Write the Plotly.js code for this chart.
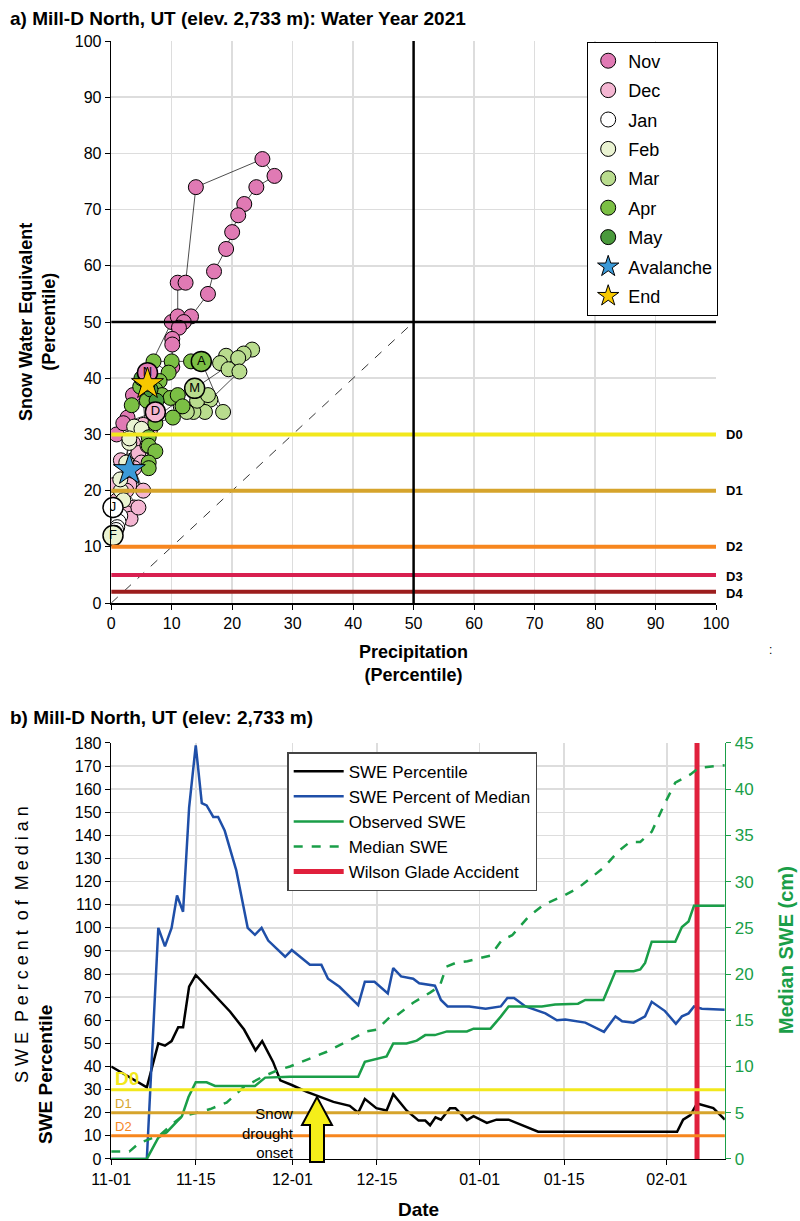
<!DOCTYPE html>
<html><head><meta charset="utf-8">
<script src="https://cdn.plot.ly/plotly-3.0.1.min.js"></script>
<style>body{margin:0;background:#fff}#c{width:800px;height:1221px}</style>
</head><body><div id="c"></div>
<script>
// ---------- Panel a data (precip percentile, SWE percentile) ----------
const novP=[6,3.6,0.9,10,11,11,12.3,14,25,27,24,22,21,20,19,17,16,13.2,12,11.2,10.1,10.1,10.1,2.7,2];
const novS=[41,37,30,50,51,57,57,74,79,76,74,71,69,66,63,59,55,51,50,49,47,46,42,33,32];
const decP=[7.3,6.4,5.3,3.6,4.5,5,1.6,5.3,3.8,2,0.5,6,3,1,3.8,2.5,3.2,4.5,2.5];
const decS=[34,30.7,31.7,28.5,26.7,25,25.4,20,24,22,21,28,21,18.3,17,16,15,17,20];
const janP=[0.3,1.5,1.2,1,0.8,0.6];
const janS=[17,15.5,14.5,13.5,13,12.5];
const febP=[0.3,1.6,2,1.5,3,3.8,3,2.5,5];
const febS=[12,20,18.3,22,28.5,31.4,29.3,25,31];
const marP=[13.8,23.3,21.9,19,21,18,19.4,21.2,16.4,15.5,13.6,12.5,14.2,11.5,16,18.5];
const marS=[38.2,45.1,44.4,44,43.6,42.7,41.6,41.2,36.2,34,34,34,36,35,37,34];
const aprP=[14.9,13.2,10,7,9.5,8,7.3,4.8,3.4,5.9,8.4,9.8,11,11.8,10.2,7.3,6.2,6.2,7.3,6.2,6.2];
const aprS=[43,43,43,43,41,39.5,38,38.5,35.2,36,37,36.5,37,35,33,32,29.5,28,27,25,24];
const mayP=[5,6.5,7.5,6];
const mayS=[40,38,36,39];
const labelP=[6,7.3,0.3,0.3,13.8,14.9];
const labelS=[41,34,17,12,38.2,43];
const labelTxt=['N','D','J','F','M','A'];
const labelCol=['#e07ab4','#f4b6d2','#ffffff','#eaf3d2','#b9dc8e','#7bbf44'];
const avalP=[3], avalS=[23.7];
const endP=[6], endS=[39];
const droughtA=[30,20,10,5,2];
const droughtNames=['D0','D1','D2','D3','D4'];
const droughtCols=['#f2e81c','#d6a42c','#f7861e','#d81f50','#9c1d1d'];

// ---------- Panel b data (day offset from 2020-11-01) ----------
const pctDays=[0,2,4,5.9,7.8,8.9,10,11.1,11.9,12.9,14,15.8,17.5,19.7,22,23.9,25,26.8,28,29.9,32.4,36.8,39.5,40.9,42,43.9,45.6,46.7,48.9,50.9,52,52.8,53.7,54.6,56.1,57,58.9,60,62.2,63.8,65.8,70.7,93.7,94.7,95.9,97,99.7,101.6];
const pctVals=[40,37,34,31,50,49,51,57,57,74.6,79.6,74.6,70,63.7,56,47,51,42,34,32,29,24.7,23,20,26,22,21,28,21,16.6,16.6,14.6,18,17,22,22,16.8,18.5,15.6,17,17,11.8,11.8,17,19,24,22,17];
const pomDays=[0,5.9,7.8,8.9,10,10.9,11.9,12.9,14,15,15.8,16.9,17.7,18.8,20.7,22.6,23.8,24.9,26,28.8,29.9,32.9,34.8,35.9,37.8,40.9,42,43.6,45.8,46.7,48,50,51,53.6,54.6,55.7,59.3,62,64.5,65.6,66.7,68.6,71.9,73.8,75.2,78.5,81.6,83.5,84.6,86.5,88.4,89.5,91.7,93.5,94.5,95.6,96.5,97.8,101.6];
const pomVals=[0,0,100,92,100,114,107,152,179,154,153,148,148,142,125,100,97,100,94.5,87.5,90.4,84,84,78,74.5,66.6,76.7,76.7,71.6,82.6,79,78,76,75,68.8,66,66,65,66,69.7,69.7,66,63,60,60.3,59,55,61.7,59.6,59,61.7,68,64,58.5,61.7,63,66,65,64.6];
const obsDays=[0,5.9,7.8,9.2,11.7,12.8,14,15.8,17.2,23.8,25.5,29.6,40.9,42,45.6,46.7,48.9,50.6,52,53.6,55.6,58.9,60,62.8,64.5,65.8,71.3,73.5,77.3,78.5,81.5,83.5,86.5,87.6,88.4,89.5,93.4,94.5,95.6,96.5,101.6];
const obsVals=[0,0,2.3,2.9,4.6,6.7,8.3,8.3,7.9,7.9,8.8,8.9,8.9,10.5,11.1,12.5,12.5,12.8,13.4,13.4,13.8,13.8,14.1,14.1,15.4,16.5,16.5,16.7,16.8,17.2,17.2,20.3,20.3,20.5,21.2,23.5,23.5,25.1,25.7,27.4,27.4];
const medDays=[0,3,4.6,8.1,10,11.7,14.2,16.4,19.1,22,24.8,27.5,29.6,32.4,35.7,39,42.3,44,46.2,47,50,52.8,54.4,55.5,57,59,61.4,62.8,64.7,66.4,69.1,71.6,74.7,77.3,81.5,84,85.9,87.6,89.5,91.7,93.4,95.9,97.3,101.6];
const medVals=[0.8,0.8,1.7,2.6,3.7,4.6,5,5.4,6.1,7.8,8.8,9.6,10,10.7,11.6,12.7,13.8,14,15.4,15.4,16.9,18,18.7,20.8,21.2,21.4,21.8,22,23.7,24.2,26.2,27.5,28.4,29.3,31.5,33.3,34.3,34.3,35.4,38.5,40.7,41.6,42.3,42.6];
const droughtB=[30,20,10];
const accidentDate='2021-02-06';
const xTicks=['2020-11-01','2020-11-15','2020-12-01','2020-12-15','2021-01-01','2021-01-15','2021-02-01'];
const xTickText=['11-01','11-15','12-01','12-15','01-01','01-15','02-01'];

const t0=Date.UTC(2020,10,1);
const toDate=d=>new Date(t0+d*86400000).toISOString().slice(0,19);
const endDate=toDate(101.6);

const F='Liberation Sans, Arial, sans-serif';
const allP=[].concat(novP,decP,janP,febP,marP,aprP,mayP);
const allS=[].concat(novS,decS,janS,febS,marS,aprS,mayS);

function mon(name,P,S,col){return {type:'scatter',mode:'markers',x:P,y:S,name:name,xaxis:'x',yaxis:'y',legend:'legend',legendgroup:name,
 marker:{size:15,color:col,line:{color:'#000',width:1}}};}

const traces=[
 {type:'scatter',mode:'lines',x:[0,50],y:[0,50],xaxis:'x',yaxis:'y',showlegend:false,line:{color:'#000',width:0.8,dash:'dash'}},
 {type:'scatter',mode:'lines',x:allP,y:allS,xaxis:'x',yaxis:'y',showlegend:false,line:{color:'#000',width:0.7}},
 mon('Nov',novP,novS,'#e07ab4'),mon('Dec',decP,decS,'#f4b6d2'),mon('Jan',janP,janS,'#ffffff'),
 mon('Feb',febP,febS,'#eaf3d2'),mon('Mar',marP,marS,'#b9dc8e'),mon('Apr',aprP,aprS,'#7bbf44'),mon('May',mayP,mayS,'#4a9a3c'),
 {type:'scatter',mode:'markers+text',x:labelP,y:labelS,text:labelTxt,xaxis:'x',yaxis:'y',showlegend:false,cliponaxis:false,
  textfont:{family:F,size:13,color:'#000'},textposition:'middle center',marker:{size:20,color:labelCol,line:{color:'#000',width:1.5}}},
 {type:'scatter',mode:'markers',x:avalP,y:avalS,name:'Avalanche',xaxis:'x',yaxis:'y',legend:'legend',legendgroup:'av',
  marker:{symbol:'star',size:24,color:'#3b9ad8',line:{color:'#000',width:1}}},
 {type:'scatter',mode:'markers',x:endP,y:endS,name:'End',xaxis:'x',yaxis:'y',legend:'legend',legendgroup:'end',
  marker:{symbol:'star',size:24,color:'#f7c800',line:{color:'#000',width:1}}},
 // panel b
 {type:'scatter',mode:'lines',x:pctDays.map(toDate),y:pctVals,name:'SWE Percentile',xaxis:'x2',yaxis:'y2',legend:'legend2',line:{color:'#000',width:2.5}},
 {type:'scatter',mode:'lines',x:pomDays.map(toDate),y:pomVals,name:'SWE Percent of Median',xaxis:'x2',yaxis:'y2',legend:'legend2',line:{color:'#1f4fa8',width:2.5}},
 {type:'scatter',mode:'lines',x:obsDays.map(toDate),y:obsVals,name:'Observed SWE',xaxis:'x2',yaxis:'y3',legend:'legend2',line:{color:'#1a9e48',width:2.5}},
 {type:'scatter',mode:'lines',x:medDays.map(toDate),y:medVals,name:'Median SWE',xaxis:'x2',yaxis:'y3',legend:'legend2',line:{color:'#1a9e48',width:2.5,dash:'dash'}},
 {type:'scatter',mode:'lines',x:[accidentDate,accidentDate],y:[0,180],name:'Wilson Glade Accident',xaxis:'x2',yaxis:'y2',legend:'legend2',line:{color:'#e0203c',width:5}}
];

const shapes=[];
droughtA.forEach((v,i)=>shapes.push({type:'line',xref:'x',yref:'y',x0:0,x1:100,y0:v,y1:v,line:{color:droughtCols[i],width:4}}));
shapes.push({type:'line',xref:'x',yref:'y',x0:50,x1:50,y0:0,y1:100,line:{color:'#000',width:2.5}});
shapes.push({type:'line',xref:'x',yref:'y',x0:0,x1:100,y0:50,y1:50,line:{color:'#000',width:2.5}});
droughtB.forEach((v,i)=>shapes.push({type:'line',xref:'paper',yref:'y2',x0:0.139,x1:0.906,y0:v,y1:v,line:{color:droughtCols[i],width:3}}));
const px=x=>x/800, py=y=>1-y/1221;
const ax=317;
const arrowPts=[[ax-7,1162],[ax-7,1125],[ax-15,1125],[ax,1097],[ax+15,1125],[ax+7,1125],[ax+7,1162]];
shapes.push({type:'path',xref:'paper',yref:'paper',path:'M'+arrowPts.map(p=>px(p[0])+','+py(p[1])).join('L')+'Z',
 fillcolor:'#f5ee1a',line:{color:'#000',width:2}});

function A(o){return Object.assign({showarrow:false,xanchor:'center',yanchor:'middle'},o);}
const annotations=[
 A({xref:'paper',yref:'paper',x:px(8),y:py(18),xanchor:'left',text:'<b>a) Mill-D North, UT (elev. 2,733 m): Water Year 2021</b>',font:{family:F,size:19,color:'#000'}}),
 A({xref:'paper',yref:'paper',x:px(8),y:py(717),xanchor:'left',text:'<b>b) Mill-D North, UT (elev: 2,733 m)</b>',font:{family:F,size:19,color:'#000'}}),
 A({xref:'paper',yref:'paper',x:px(413),y:py(663),text:'<b>Precipitation<br>(Percentile)</b>',font:{family:F,size:18,color:'#000'}}),
 A({xref:'paper',yref:'paper',x:px(37),y:py(322),textangle:-90,text:'<b>Snow Water Equivalent<br>(Percentile)</b>',font:{family:F,size:18,color:'#000'}}),
 A({xref:'paper',yref:'paper',x:px(770),y:py(650),text:':',font:{family:F,size:12,color:'#000'}}),
 A({xref:'paper',yref:'paper',x:px(418),y:py(1209),text:'<b>Date</b>',font:{family:F,size:19,color:'#000'}}),
 A({xref:'paper',yref:'paper',x:px(22),y:py(945),textangle:-90,text:'S W E  P e r c e n t  o f  M e d i a n',font:{family:F,size:18,color:'#000'}}),
 A({xref:'paper',yref:'paper',x:px(45),y:py(1075),textangle:-90,text:'<b>SWE Percentile</b>',font:{family:F,size:19,color:'#000'}}),
 A({xref:'paper',yref:'paper',x:px(786),y:py(950),textangle:-90,text:'<b>Median SWE (cm)</b>',font:{family:F,size:20,color:'#1a9e48'}}),
 A({xref:'paper',yref:'paper',x:px(296),y:py(1133),xanchor:'right',text:'Snow<br>drought<br>onset',align:'right',font:{family:F,size:15,color:'#000'}}),
 A({xref:'paper',yref:'y2',x:px(113),y:35,xanchor:'left',text:'<b>D0</b>',font:{family:F,size:19,color:'#f2e81c'}}),
 A({xref:'paper',yref:'y2',x:px(113),y:24,xanchor:'left',text:'D1',font:{family:F,size:13,color:'#d6a42c'}}),
 A({xref:'paper',yref:'y2',x:px(113),y:14,xanchor:'left',text:'D2',font:{family:F,size:13,color:'#f7861e'}})
];
droughtA.forEach((v,i)=>annotations.push(A({xref:'paper',yref:'y',x:px(724),y:v,xanchor:'left',yshift:i>=3?-2:0,text:'<b>'+droughtNames[i]+'</b>',font:{family:F,size:13,color:'#000'}})));

const ax0={showline:true,linecolor:'#000',linewidth:1.5,ticks:'outside',ticklen:5,tickcolor:'#000',gridcolor:'#dddddd',gridwidth:1.5,zeroline:false,tickfont:{family:F,size:16,color:'#000'}};
const layout={
 width:800,height:1221,margin:{l:0,r:0,t:0,b:0},paper_bgcolor:'#fff',plot_bgcolor:'#fff',
 xaxis:Object.assign({},ax0,{domain:[0.139,0.895],range:[0,100],dtick:10,anchor:'y'}),
 yaxis:Object.assign({},ax0,{domain:[0.5061,0.9664],range:[0,100],dtick:10,anchor:'x'}),
 xaxis2:Object.assign({},ax0,{domain:[0.139,0.906],type:'date',range:['2020-11-01',endDate],tickvals:xTicks,ticktext:xTickText,anchor:'y2'}),
 yaxis2:Object.assign({},ax0,{domain:[0.0508,0.3915],range:[0,180],dtick:10,anchor:'x2'}),
 yaxis3:{domain:[0.0508,0.3915],range:[0,45],dtick:5,overlaying:'y2',side:'right',anchor:'x2',showgrid:false,zeroline:false,showline:true,linecolor:'#1a9e48',linewidth:1.5,ticks:'outside',tickcolor:'#1a9e48',ticklen:5,tickfont:{family:F,size:17,color:'#1a9e48'}},
 legend:{x:0.734,y:0.966,xanchor:'left',yanchor:'top',bgcolor:'#fff',bordercolor:'#000',borderwidth:1,font:{family:F,size:18,color:'#000'},traceorder:'grouped',tracegroupgap:3,itemsizing:'trace'},
 legend2:{x:0.359,y:0.384,xanchor:'left',yanchor:'top',bgcolor:'#fff',bordercolor:'#444',borderwidth:1.5,font:{family:F,size:17,color:'#000'},itemwidth:50},
 shapes:shapes,annotations:annotations
};
Plotly.newPlot('c',traces,layout,{staticPlot:true});
</script></body></html>
